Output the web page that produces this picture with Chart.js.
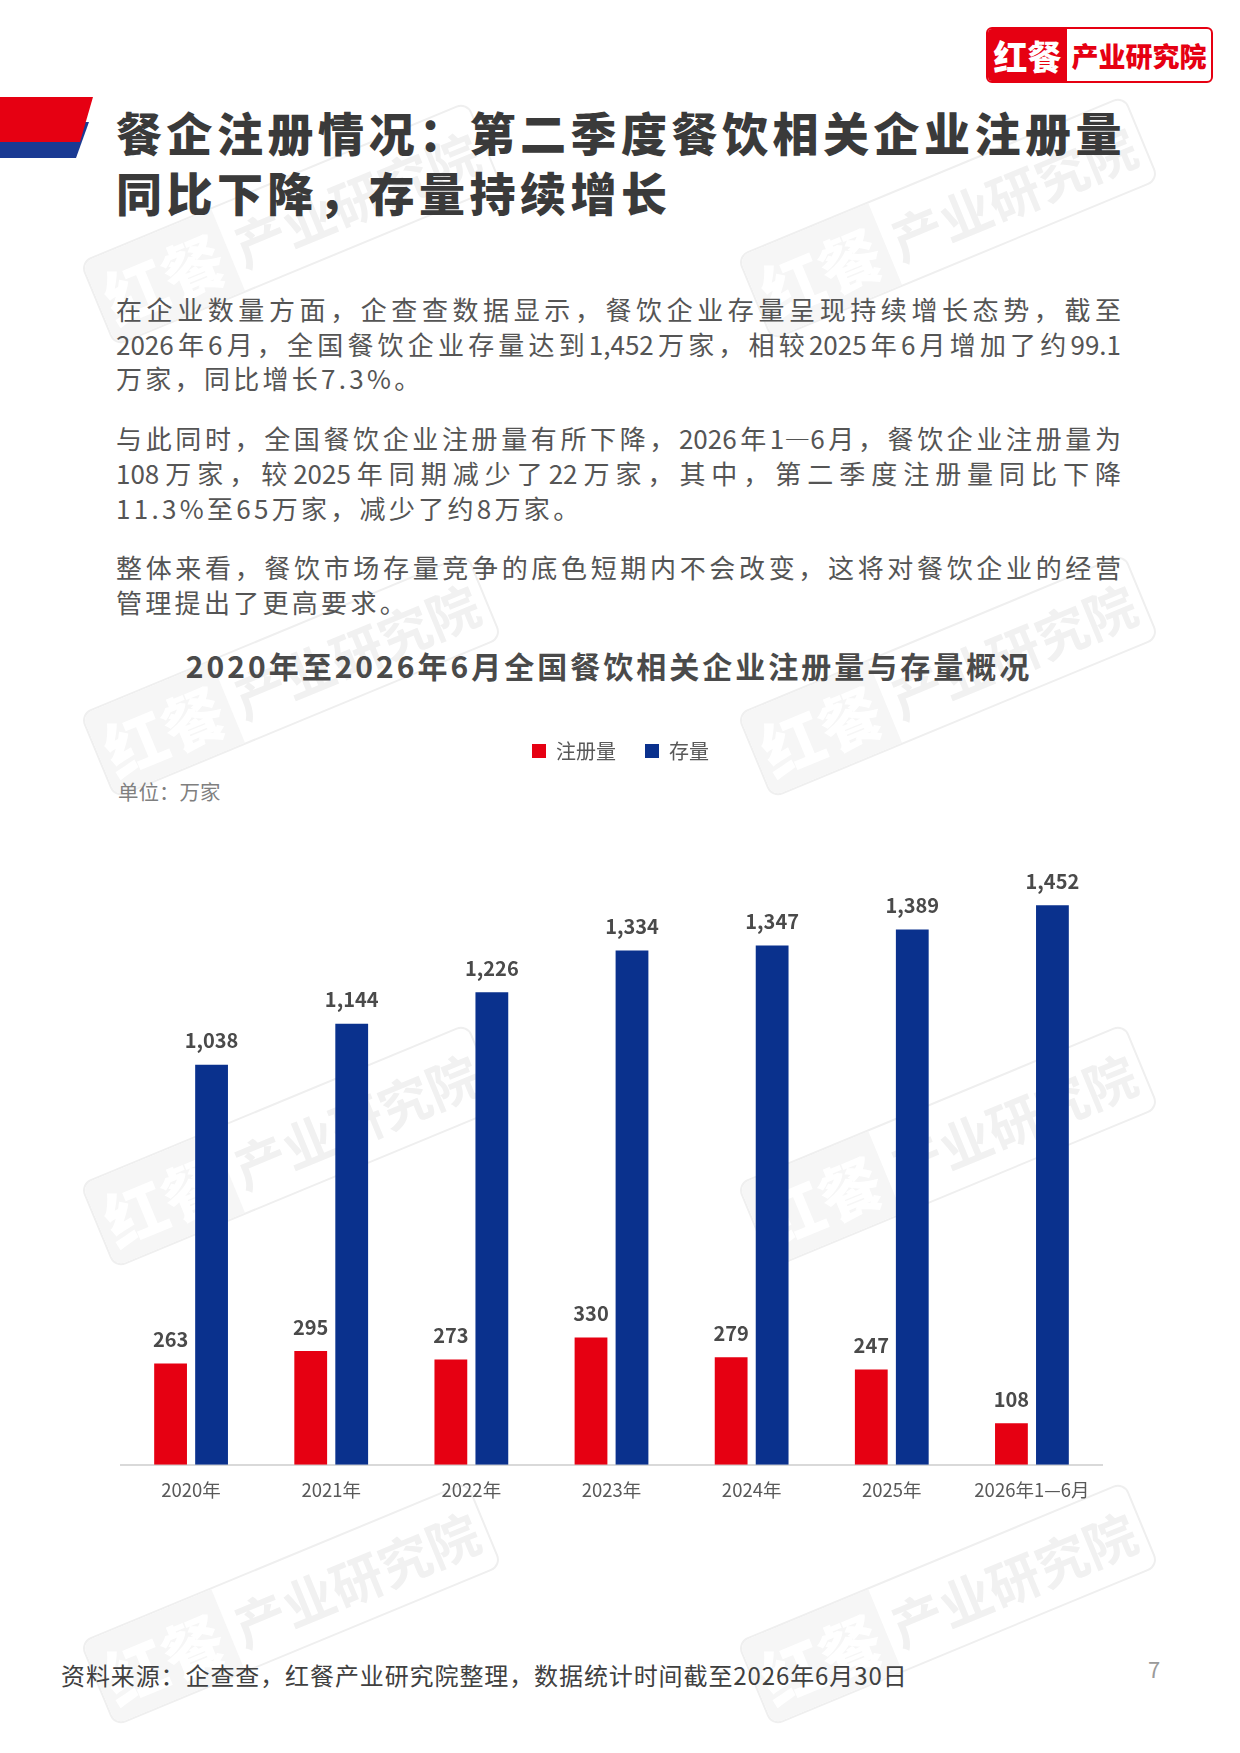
<!DOCTYPE html>
<html lang="zh-CN">
<head>
<meta charset="utf-8">
<title>2020年至2026年6月全国餐饮相关企业注册量与存量概况</title>
<script src="https://cdn.jsdelivr.net/npm/chart.js@4.4.1/dist/chart.umd.min.js"></script>
<style>
  html, body { margin: 0; padding: 0; background: #fff; }
  body { width: 1240px; height: 1753px; position: relative; overflow: hidden;
         font-family: "Noto Sans CJK SC", "Noto Sans", sans-serif; }
  .abs { position: absolute; }
  .wm { position: absolute; width: 420px; height: 92px; border: 2px solid #efefef; border-radius: 12px;
        transform: rotate(-22.5deg); display: flex; align-items: center; box-sizing: border-box; }
  .wm .l { width: 140px; height: 100%; background: #f6f6f6; color: #fff; font-size: 62px; font-weight: 900;
           display: flex; align-items: center; justify-content: center; border-radius: 10px 0 0 10px; }
  .wm .r { flex: 1; color: #f1f1f1; font-size: 52px; font-weight: 700; text-align: center; }
  .title { left: 116px; top: 101px; font-size: 46px; font-weight: 900; color: #3a3a3a;
           letter-spacing: 4.5px; line-height: 60px; }
  .body { left: 116px; top: 292px; width: 1005px; font-size: 26px; color: #555; line-height: 34.7px; }
  .body p { margin: 0 0 25px 0; }
  .body span { display: block; }
  .body .j { text-align: justify; text-align-last: justify; }
  .body .k { letter-spacing: 3.3px; }
  .ctitle { left: 0; width: 1218px; top: 643px; text-align: center; font-size: 30px; font-weight: 700;
            color: #4a4a4a; letter-spacing: 3px; }
  .unit { left: 118px; top: 776px; font-size: 20.5px; color: #7f7f7f; }
  .foot { left: 61px; top: 1657px; font-size: 24px; color: #404040; letter-spacing: 0.9px; }
  .page { left: 1148px; top: 1652px; font-size: 22px; color: #9a9a9a; }
</style>
</head>
<body>
<!-- watermarks -->
<div class="wm" style="left:81px;top:178px"><div class="l">红餐</div><div class="r">产业研究院</div></div>
<div class="wm" style="left:738px;top:172px"><div class="l">红餐</div><div class="r">产业研究院</div></div>
<div class="wm" style="left:81px;top:630px"><div class="l">红餐</div><div class="r">产业研究院</div></div>
<div class="wm" style="left:738px;top:630px"><div class="l">红餐</div><div class="r">产业研究院</div></div>
<div class="wm" style="left:81px;top:1100px"><div class="l">红餐</div><div class="r">产业研究院</div></div>
<div class="wm" style="left:738px;top:1100px"><div class="l">红餐</div><div class="r">产业研究院</div></div>
<div class="wm" style="left:81px;top:1558px"><div class="l">红餐</div><div class="r">产业研究院</div></div>
<div class="wm" style="left:738px;top:1558px"><div class="l">红餐</div><div class="r">产业研究院</div></div>

<!-- logo -->
<div class="abs" style="left:986px;top:27px;width:227px;height:56px;border:2px solid #e60012;border-radius:6px;box-sizing:border-box;display:flex;overflow:hidden;">
  <div style="width:79px;background:#e60012;color:#fff;font-size:34px;font-weight:900;display:flex;align-items:center;justify-content:center;">红餐</div>
  <div style="flex:1;color:#e60012;font-size:27px;font-weight:900;display:flex;align-items:center;justify-content:center;">产业研究院</div>
</div>

<!-- banner -->
<svg class="abs" style="left:0;top:90px" width="100" height="75">
  <polygon points="0,32 89,32 76,68 0,68" fill="#1a3a93"/>
  <polygon points="0,7 93,7 80,52 0,52" fill="#e60012"/>
</svg>

<div class="abs title">餐企注册情况：第二季度餐饮相关企业注册量<br>同比下降，存量持续增长</div>

<div class="abs body">
  <p><span class="j">在企业数量方面，企查查数据显示，餐饮企业存量呈现持续增长态势，截至</span>
     <span class="j">2026年6月，全国餐饮企业存量达到1,452万家，相较2025年6月增加了约99.1</span>
     <span class="k">万家，同比增长7.3%。</span></p>
  <p><span class="j">与此同时，全国餐饮企业注册量有所下降，2026年1—6月，餐饮企业注册量为</span>
     <span class="j">108万家，较2025年同期减少了22万家，其中，第二季度注册量同比下降</span>
     <span class="k">11.3%至65万家，减少了约8万家。</span></p>
  <p><span class="j">整体来看，餐饮市场存量竞争的底色短期内不会改变，这将对餐饮企业的经营</span>
     <span class="k">管理提出了更高要求。</span></p>
</div>

<div class="abs ctitle">2020年至2026年6月全国餐饮相关企业注册量与存量概况</div>
<div class="abs unit">单位：万家</div>

<canvas id="chart" class="abs" style="left:0;top:712px;width:1240px;height:803px" width="1240" height="803"></canvas>

<div class="abs foot">资料来源：企查查，红餐产业研究院整理，数据统计时间截至2026年6月30日</div>
<div class="abs page">7</div>

<script>
const categories = ["2020年", "2021年", "2022年", "2023年", "2024年", "2025年", "2026年1—6月"];
const registrations = [263, 295, 273, 330, 279, 247, 108];
const stock = [1038, 1144, 1226, 1334, 1347, 1389, 1452];
const seriesNames = ["注册量", "存量"];

const RED = "#e60012";
const BLUE = "#0a318d";
const FONT = '"Noto Sans CJK SC", "Noto Sans", sans-serif';

// value labels above every bar
const barLabels = {
  id: "barLabels",
  afterDatasetsDraw(chart) {
    const ctx = chart.ctx;
    ctx.save();
    ctx.font = "bold 20px " + FONT;
    ctx.fillStyle = "#4a4a4a";
    ctx.textAlign = "center";
    ctx.textBaseline = "middle";
    chart.data.datasets.forEach((ds, i) => {
      chart.getDatasetMeta(i).data.forEach((bar, j) => {
        ctx.fillText(ds.data[j].toLocaleString("en-US"), bar.x, bar.y - 24);
      });
    });
    ctx.restore();
  }
};

// the legend sits a little right of the plot centre in the original
const legendShift = {
  id: "legendShift",
  afterLayout(chart) {
    chart.legend.left += 9;
    chart.legend.right += 9;
  }
};

new Chart(document.getElementById("chart").getContext("2d"), {
  type: "bar",
  data: {
    labels: categories,
    datasets: [
      { label: seriesNames[0], data: registrations, backgroundColor: RED },
      { label: seriesNames[1], data: stock, backgroundColor: BLUE }
    ]
  },
  options: {
    responsive: false,
    animation: false,
    layout: { padding: { left: 121, right: 138, top: 0, bottom: 0 } },
    datasets: { bar: { categoryPercentage: 0.585, barPercentage: 0.8 } },
    plugins: {
      tooltip: { enabled: false },
      legend: {
        position: "top",
        labels: {
          boxWidth: 14, boxHeight: 14, padding: 29,
          color: "#595959",
          font: { family: FONT, size: 20 }
        }
      }
    },
    scales: {
      x: {
        grid: { display: false, drawTicks: false },
        border: { display: true, color: "#d9d9d9", width: 2 },
        ticks: { color: "#595959", padding: 14, font: { family: FONT, size: 18.5 } }
      },
      y: { display: false, min: 0, max: 1800 }
    }
  },
  plugins: [barLabels, legendShift]
});
</script>
</body>
</html>
